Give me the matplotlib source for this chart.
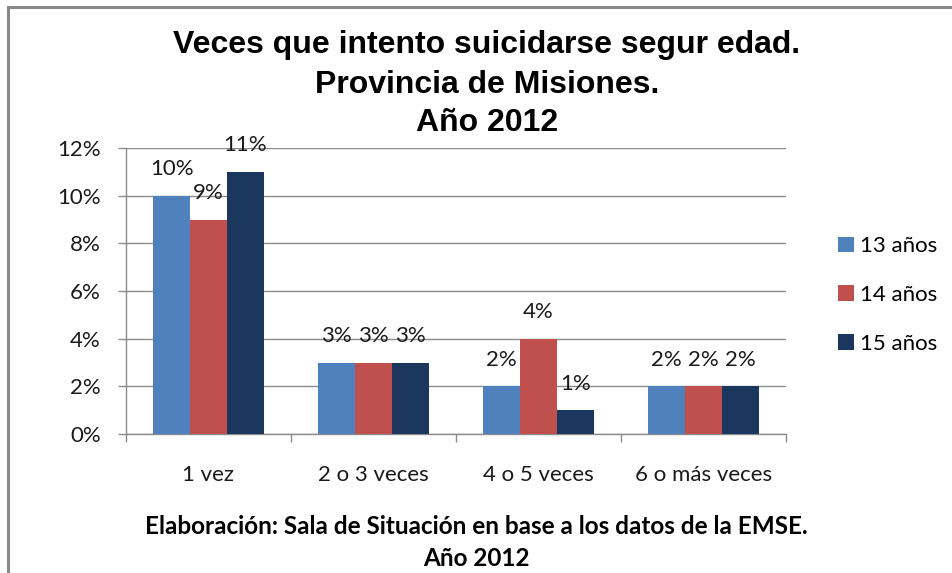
import numpy as np
import matplotlib
matplotlib.use("Agg")
import matplotlib.pyplot as plt
from matplotlib.lines import Line2D

# data ---------------------------------------------------------------
categories = ["1 vez", "2 o 3 veces", "4 o 5 veces", "6 o más veces"]
series_names = ["13 años", "14 años", "15 años"]
age13 = [10, 3, 2, 2]
age14 = [9, 3, 4, 2]
age15 = [11, 3, 1, 2]
yticks = [0, 2, 4, 6, 8, 10, 12]

colors = ["#4F81BD", "#C0504D", "#1B375E"]
tick_font = "Lato"
fs = 16

fig = plt.figure(figsize=(9.52, 5.73), dpi=100)
ax = fig.add_axes([126/952, 1 - 434/573, (786 - 126)/952, (434 - 148)/573])

x = np.arange(len(categories))
width = 0.224
for i, vals in enumerate([age13, age14, age15]):
    pos = x + (i - 1) * width
    ax.bar(pos, vals, width, color=colors[i], zorder=3, label=series_names[i])
    for xp, v in zip(pos, vals):
        ax.annotate(f"{v}%", (xp, v), xytext=(0, 12), textcoords="offset points",
                    ha="center", va="bottom", fontsize=fs, family=tick_font,
                    color="#1a1a1a", zorder=4)

# axes styling -------------------------------------------------------
ax.set_xlim(-0.5, len(categories) - 0.5)
ax.set_ylim(0, 12)
ax.set_yticks(yticks)
ax.set_yticklabels([f"{t}%" for t in yticks], family=tick_font, fontsize=fs)
ax.yaxis.grid(True, color="#8c8c8c", linewidth=1.0, zorder=0)
ax.set_axisbelow(True)
ax.tick_params(axis="y", length=6, width=1, color="#8c8c8c", pad=12, labelcolor="#1a1a1a")

ax.set_xticks(x)
ax.set_xticklabels(categories, family=tick_font, fontsize=fs)
ax.tick_params(axis="x", which="major", length=0, pad=22, labelcolor="#1a1a1a")
ax.set_xticks(np.arange(-0.5, len(categories)), minor=True)
ax.tick_params(axis="x", which="minor", length=6, width=1, color="#8c8c8c")

for s in ["top", "right"]:
    ax.spines[s].set_visible(False)
for s in ["left", "bottom"]:
    ax.spines[s].set_color("#8c8c8c")
    ax.spines[s].set_linewidth(1.0)

# legend -------------------------------------------------------------
ax.legend(loc="center left", bbox_to_anchor=(818/952, 1 - 295/573),
          bbox_transform=fig.transFigure, frameon=False,
          prop={"family": tick_font, "size": fs},
          handlelength=0.7, handleheight=0.7, handletextpad=0.3,
          labelspacing=1.3)

# titles -------------------------------------------------------------
title_lines = ["Veces que intento suicidarse segur edad.", "Provincia de Misiones.", "Año 2012"]
for line, yp in zip(title_lines, [45, 85, 123]):
    fig.text(487/952, 1 - yp/573, line, ha="center", va="center",
             fontsize=23, fontweight="bold", family="Liberation Sans")

fig.text(476/952, 1 - 527/573, "Elaboración: Sala de Situación en base a los datos de la EMSE.",
         ha="center", va="center", fontsize=17.5, fontweight="bold", family=tick_font)
fig.text(476/952, 1 - 558/573, "Año 2012",
         ha="center", va="center", fontsize=17.5, fontweight="bold", family=tick_font)

# outer frame (cropped) ----------------------------------------------
fig.add_artist(Line2D([8/952, 1], [1 - 7/573, 1 - 7/573], color="#888888", linewidth=2.2))
fig.add_artist(Line2D([8/952, 8/952], [0, 1 - 7/573], color="#888888", linewidth=2.2))

fig.savefig("out.png", dpi=100)
